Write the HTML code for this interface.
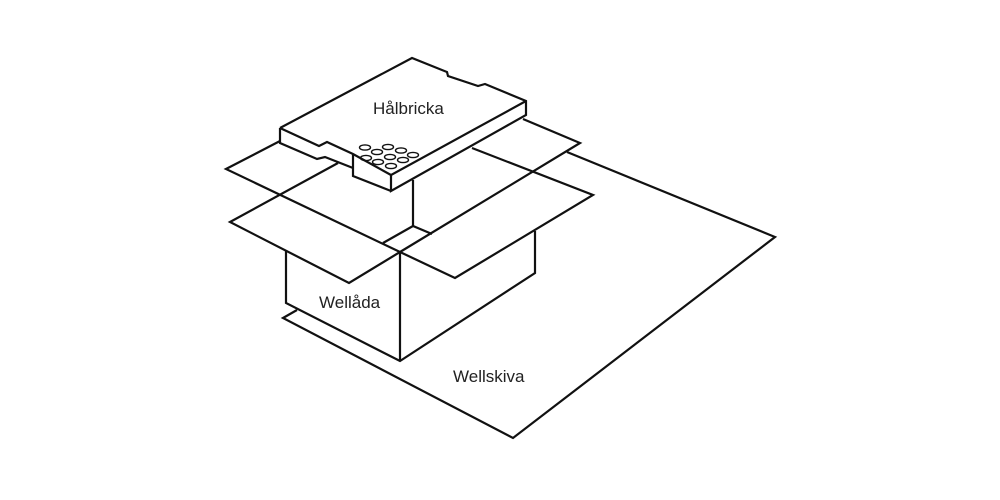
<!DOCTYPE html>
<html><head><meta charset="utf-8"><style>
html,body{margin:0;padding:0;background:#fff;}
svg{display:block;}
text{font-family:"Liberation Sans",sans-serif;font-size:17px;fill:#222;}
</style></head><body>
<svg width="1000" height="500" viewBox="0 0 1000 500" xmlns="http://www.w3.org/2000/svg">
<g fill="none" stroke="#111" stroke-width="2.2" stroke-linejoin="miter" stroke-linecap="butt">
<!-- Wellskiva -->
<polyline points="297,310 283,318 513,438 775,237 567,152"/>
<!-- Box body -->
<polyline points="286,250 286,303 400,361 535,273 535,231"/>
<line x1="400" y1="252" x2="400" y2="361"/>
<!-- back-left flap -->
<polyline points="280,141 226,169 400,252"/>
<!-- front-left flap -->
<polyline points="338,163 230,222 349,283 400,252"/>
<!-- inner back -->
<polyline points="383,243 413,226 432,234"/>
<line x1="413" y1="180" x2="413" y2="226"/>
<!-- back-right flap -->
<polyline points="523,119 580,143 400,252"/>
<!-- front-right flap -->
<polyline points="472,148 593,195 455,278 400,252"/>
<!-- Tray -->
<polyline points="280,128 412,58 447,72 448,76 478,86 485,84 526,101 526,115 391,191 391,175 526,101" fill="#fff"/>
<polyline points="280,128 319,146 327,142 353,154 391,175"/>
<polyline points="280,128 280,143 317,159 325,157 353,168"/>
<polyline points="353,154 353,176 391,191"/>
</g>
<g fill="none" stroke="#111" stroke-width="1.4">
<ellipse cx="365" cy="147.5" rx="5.5" ry="2.6"/>
<ellipse cx="388" cy="147" rx="5.5" ry="2.6"/>
<ellipse cx="377" cy="152" rx="5.5" ry="2.6"/>
<ellipse cx="401" cy="150.5" rx="5.5" ry="2.6"/>
<ellipse cx="366" cy="158" rx="5.5" ry="2.6"/>
<ellipse cx="390" cy="157" rx="5.5" ry="2.6"/>
<ellipse cx="413" cy="155" rx="5.5" ry="2.6"/>
<ellipse cx="378" cy="162" rx="5.5" ry="2.6"/>
<ellipse cx="403" cy="160" rx="5.5" ry="2.6"/>
<ellipse cx="391" cy="166" rx="5.5" ry="2.6"/>
</g>
<text x="373" y="114">Hålbricka</text>
<text x="319" y="308">Wellåda</text>
<text x="453" y="382">Wellskiva</text>
</svg>
</body></html>
